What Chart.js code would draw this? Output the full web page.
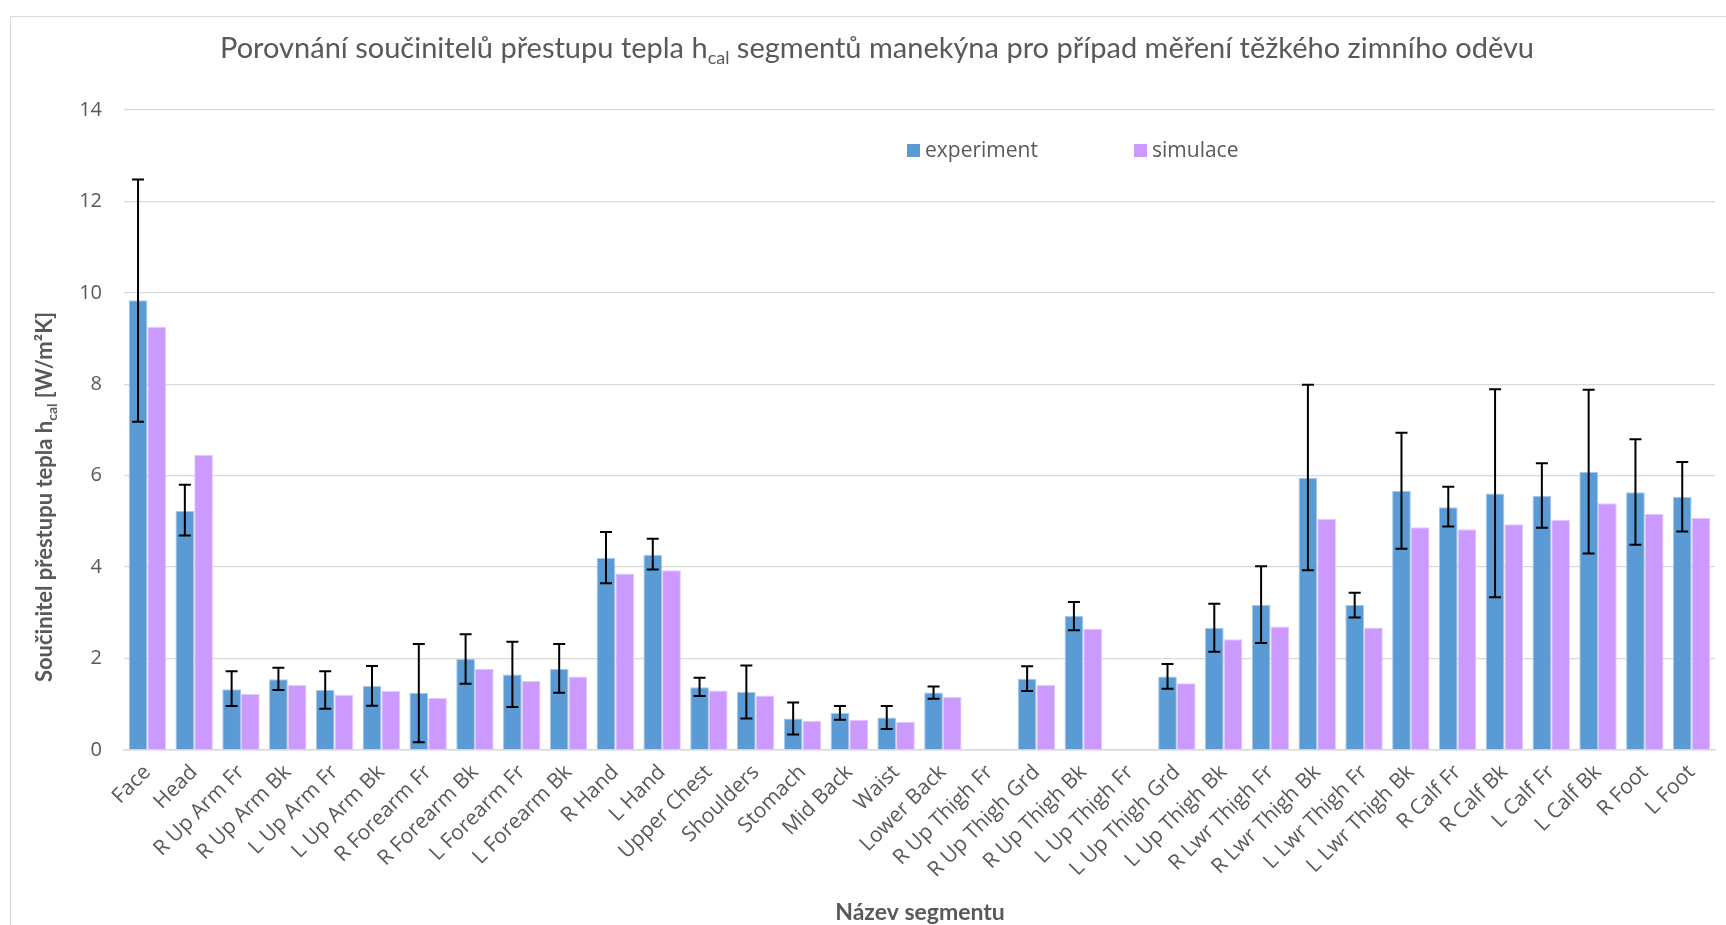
<!DOCTYPE html>
<html>
<head>
<meta charset="utf-8">
<script src="https://cdn.jsdelivr.net/npm/chart.js@4.4.1/dist/chart.umd.min.js"></script>
<style>
  body { margin: 0; overflow: hidden; background: #fff; }
  .frame { position: absolute; left: 10px; top: 16px; width: 2000px; height: 2000px; border: 1px solid #d9d9d9; }
  canvas { position: absolute; left: 0; top: 0; }
</style>
</head>
<body>
<div class="frame"></div>
<canvas id="hcalChart" width="1726" height="925"></canvas>
<script>
    // segment names
    const segments = ['Face', 'Head', 'R Up Arm Fr', 'R Up Arm Bk', 'L Up Arm Fr', 'L Up Arm Bk',
        'R Forearm Fr', 'R Forearm Bk', 'L Forearm Fr', 'L Forearm Bk', 'R Hand', 'L Hand',
        'Upper Chest', 'Shoulders', 'Stomach', 'Mid Back', 'Waist', 'Lower Back',
        'R Up Thigh Fr', 'R Up Thigh Grd', 'R Up Thigh Bk', 'L Up Thigh Fr', 'L Up Thigh Grd', 'L Up Thigh Bk',
        'R Lwr Thigh Fr', 'R Lwr Thigh Bk', 'L Lwr Thigh Fr', 'L Lwr Thigh Bk',
        'R Calf Fr', 'R Calf Bk', 'L Calf Fr', 'L Calf Bk', 'R Foot', 'L Foot'];

    const experiment = [9.84, 5.23, 1.33, 1.55, 1.31, 1.40, 1.25, 1.99, 1.65, 1.78, 4.20, 4.27,
        1.37, 1.27, 0.69, 0.81, 0.71, 1.26, 0, 1.56, 2.93, 0, 1.61, 2.67,
        3.18, 5.95, 3.17, 5.67, 5.31, 5.61, 5.56, 6.08, 5.64, 5.54];

    const simulace = [9.26, 6.46, 1.23, 1.42, 1.21, 1.29, 1.14, 1.78, 1.51, 1.61, 3.86, 3.93,
        1.30, 1.19, 0.64, 0.66, 0.61, 1.16, 0, 1.42, 2.65, 0, 1.46, 2.42,
        2.70, 5.06, 2.68, 4.87, 4.83, 4.94, 5.03, 5.40, 5.16, 5.08];

    // error bar ends of the experiment series
    const errUpper = [12.48, 5.80, 1.72, 1.80, 1.72, 1.84, 2.32, 2.53, 2.37, 2.32, 4.77, 4.62,
        1.58, 1.85, 1.04, 0.96, 0.96, 1.39, null, 1.83, 3.24, null, 1.88, 3.20,
        4.02, 7.99, 3.44, 6.94, 5.76, 7.89, 6.27, 7.88, 6.80, 6.30];
    const errLower = [7.18, 4.69, 0.96, 1.31, 0.90, 0.97, 0.17, 1.45, 0.94, 1.25, 3.65, 3.95,
        1.18, 0.69, 0.34, 0.66, 0.46, 1.12, null, 1.29, 2.62, null, 1.34, 2.15,
        2.34, 3.93, 2.90, 4.40, 4.89, 3.34, 4.86, 4.30, 4.49, 4.78];

    const yTicks = [0, 2, 4, 6, 8, 10, 12, 14];

    const textColor = '#595959';

    // draws error bars on the experiment bars
    const errorBars = {
        id: 'errorBars',
        afterDatasetsDraw(chart) {
            const meta = chart.getDatasetMeta(0);
            const y = chart.scales.y;
            const c = chart.ctx;
            c.save();
            c.strokeStyle = '#000';
            c.lineWidth = 2;
            meta.data.forEach(function(bar, i) {
                if (errUpper[i] == null) return;
                const top = y.getPixelForValue(errUpper[i]);
                const bot = y.getPixelForValue(errLower[i]);
                c.beginPath();
                c.moveTo(bar.x, top); c.lineTo(bar.x, bot);
                c.moveTo(bar.x - 6, top); c.lineTo(bar.x + 6, top);
                c.moveTo(bar.x - 6, bot); c.lineTo(bar.x + 6, bot);
                c.stroke();
            });
            c.restore();
        }
    };

    // text with a "cal" subscript after the h
    function drawSub(c, parts, x, y, size, weight, family) {
        const main = weight + ' ' + size + 'px ' + family;
        const sub = weight + ' ' + Math.round(size * 0.62) + 'px ' + family;
        c.font = main;
        const w0 = c.measureText(parts[0]).width;
        c.font = sub;
        const w1 = c.measureText(parts[1]).width;
        c.font = main;
        const w2 = c.measureText(parts[2]).width;
        let cx = x - (w0 + w1 + w2) / 2;
        c.textAlign = 'left';
        c.textBaseline = 'alphabetic';
        c.fillText(parts[0], cx, y); cx += w0;
        c.font = sub;
        c.fillText(parts[1], cx, y + size * 0.22); cx += w1;
        c.font = main;
        c.fillText(parts[2], cx, y);
    }

    const labelsPlugin = {
        id: 'labelsPlugin',
        afterDraw(chart) {
            const c = chart.ctx;
            c.save();
            c.fillStyle = textColor;
            // title
            drawSub(c, ['Porovnání součinitelů přestupu tepla h', 'cal', ' segmentů manekýna pro případ měření těžkého zimního oděvu'],
                877, 58, 29, '400', 'Lato');
            // y title
            c.save();
            c.translate(44, 497);
            c.rotate(-Math.PI / 2);
            drawSub(c, ['Součinitel přestupu tepla h', 'cal', ' [W/m²K]'], 0, 8, 22, 'bold', 'Lato');
            c.restore();
            // x title
            c.font = 'bold 23px Lato';
            c.textAlign = 'center';
            c.textBaseline = 'middle';
            c.fillText('Název segmentu', 920, 913);
            // legend
            const items = [['experiment', '#5B9BD5', 907], ['simulace', '#CC99FF', 1134]];
            c.font = '21px "Open Sans"';
            c.textAlign = 'left';
            items.forEach(function(it) {
                c.fillStyle = it[1];
                c.fillRect(it[2], 144, 13, 13);
                c.fillStyle = textColor;
                c.fillText(it[0], it[2] + 18, 151);
            });
            c.restore();
        }
    };

    const chartData = {
        labels: segments,
        datasets: [{
            label: 'experiment',
            data: experiment,
            backgroundColor: '#5B9BD5',
            borderColor: '#A6C8EB',
            borderWidth: 1,
            categoryPercentage: 0.8,
            barPercentage: 1.0
        }, {
            label: 'simulace',
            data: simulace,
            backgroundColor: '#CC99FF',
            borderColor: '#E3C8FF',
            borderWidth: 1,
            categoryPercentage: 0.8,
            barPercentage: 1.0
        }]
    };

    const chartOptions = {
        responsive: false,
        animation: false,
        devicePixelRatio: 1,
        layout: {
            padding: { top: 110, right: 11, bottom: 0, left: 0 }
        },
        scales: {
            y: {
                min: 0,
                max: 14,
                afterBuildTicks: function(scale) {
                    scale.ticks = yTicks.map(function(v) { return { value: v }; });
                },
                afterFit: function(scale) { scale.width = 124; },
                ticks: {
                    color: textColor,
                    font: { family: 'Open Sans', size: 20 },
                    padding: 22
                },
                grid: { color: '#D9D9D9', lineWidth: 1.3, drawTicks: false },
                border: { display: false }
            },
            x: {
                afterFit: function(scale) { scale.height = 175; },
                ticks: {
                    color: textColor,
                    font: { family: 'Open Sans', size: 21 },
                    autoSkip: false,
                    minRotation: 45,
                    maxRotation: 45,
                    padding: 10
                },
                grid: { display: false, drawTicks: false },
                border: { display: true, color: '#D9D9D9', width: 1.5 }
            }
        },
        plugins: {
            legend: { display: false },
            title: { display: false },
            tooltip: { enabled: true }
        }
    };

    const ctx = document.getElementById('hcalChart').getContext('2d');
    const hcalChart = new Chart(ctx, {
        type: 'bar',
        data: chartData,
        options: chartOptions,
        plugins: [errorBars, labelsPlugin]
    });
</script>
</body>
</html>
